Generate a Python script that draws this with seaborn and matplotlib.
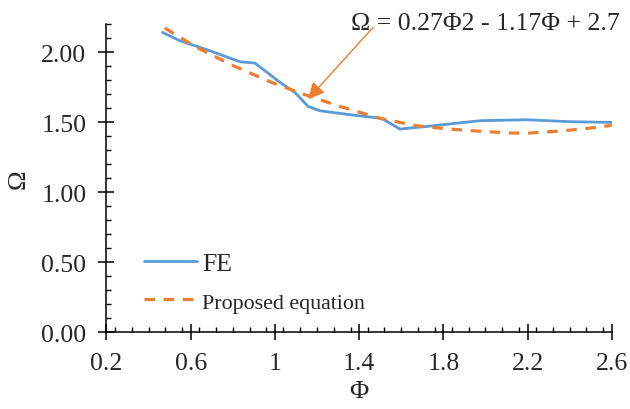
import matplotlib
matplotlib.use("Agg")
import matplotlib.pyplot as plt
from matplotlib.ticker import MultipleLocator, FixedLocator, FixedFormatter
import seaborn as sns
import pandas as pd

# FE curve
fe_phi = [0.466, 0.549, 0.644, 0.691, 0.834, 0.905, 1.024, 1.095, 1.158, 1.214,
          1.372, 1.507, 1.594, 1.721, 1.974, 2.196, 2.402, 2.6]
fe_omega = [2.143, 2.083, 2.036, 2.012, 1.933, 1.924, 1.786, 1.714, 1.614, 1.583,
            1.552, 1.529, 1.452, 1.471, 1.512, 1.519, 1.505, 1.50]

# Proposed equation curve
eq_phi = [0.477, 0.628, 0.802, 0.992, 1.135, 1.309, 1.499, 1.674, 1.832,
          1.943, 2.117, 2.212, 2.37, 2.529, 2.6]
eq_omega = [2.174, 2.036, 1.905, 1.781, 1.702, 1.614, 1.529, 1.476, 1.452,
            1.44, 1.424, 1.424, 1.44, 1.464, 1.48]

x_ticks = [0.2, 0.6, 1.0, 1.4, 1.8, 2.2, 2.6]
x_labels = ["0.2", "0.6", "1", "1.4", "1.8", "2.2", "2.6"]
y_ticks = [0.0, 0.5, 1.0, 1.5, 2.0]

fe = pd.DataFrame({"phi": fe_phi, "omega": fe_omega})
eq = pd.DataFrame({"phi": eq_phi, "omega": eq_omega})

sns.set_style("ticks")
plt.rcParams["font.family"] = ["Liberation Serif", "DejaVu Serif"]
plt.rcParams["font.size"] = 19

blue = "#5B9BD5"
orange = "#ED7D31"

fig = plt.figure(figsize=(6.3, 4.1), dpi=100)
ax = fig.add_axes([0.169, 0.187, 0.802, 0.751])

sns.lineplot(data=fe, x="phi", y="omega", ax=ax, color=blue, lw=2.0,
             label="FE", sort=False)
sns.lineplot(data=eq, x="phi", y="omega", ax=ax, color=orange, lw=2.3,
             label="Proposed equation", sort=False, linestyle=(0, (3.3, 2.7)))

ax.set_xlim(0.2, 2.6)
ax.set_ylim(0, 2.2)
ax.xaxis.set_major_locator(FixedLocator(x_ticks))
ax.xaxis.set_major_formatter(FixedFormatter(x_labels))
ax.xaxis.set_minor_locator(MultipleLocator(0.08))
ax.yaxis.set_major_locator(FixedLocator(y_ticks))
ax.yaxis.set_minor_locator(MultipleLocator(0.1))
ax.yaxis.set_major_formatter(plt.FormatStrFormatter("%.2f"))

ax.tick_params(which="major", direction="inout", length=11, width=1.1,
               color="black", labelsize=18.5, pad=9)
ax.tick_params(which="minor", direction="in", length=3.5, width=1.0, color="black")

for side in ["top", "right"]:
    ax.spines[side].set_visible(False)
for side in ["left", "bottom"]:
    ax.spines[side].set_linewidth(1.1)
    ax.spines[side].set_color("black")

ax.set_xlabel("Φ", fontsize=19, labelpad=4)
ax.set_ylabel("Ω", fontsize=19, labelpad=8)

leg = ax.legend(loc="lower left", bbox_to_anchor=(0.074, 0.062), frameon=False,
                handlelength=2.0, handletextpad=0.2, labelspacing=0.55,
                borderpad=0, borderaxespad=0)
texts = leg.get_texts()
texts[0].set_fontsize(18.5)
texts[1].set_fontsize(15.8)

# equation label and its arrow
ax.text(1.361, 2.21, "Ω = 0.27Φ2 - 1.17Φ + 2.7", fontsize=18.5, ha="left", va="center",
        clip_on=False)
ax.annotate("", xy=(1.158, 1.667), xytext=(1.467, 2.18),
            arrowprops=dict(arrowstyle="-|>,head_length=0.7,head_width=0.35",
                            color=orange, lw=1.0, shrinkA=0, shrinkB=0,
                            mutation_scale=14),
            annotation_clip=False)

fig.savefig("out.png", dpi=100)
